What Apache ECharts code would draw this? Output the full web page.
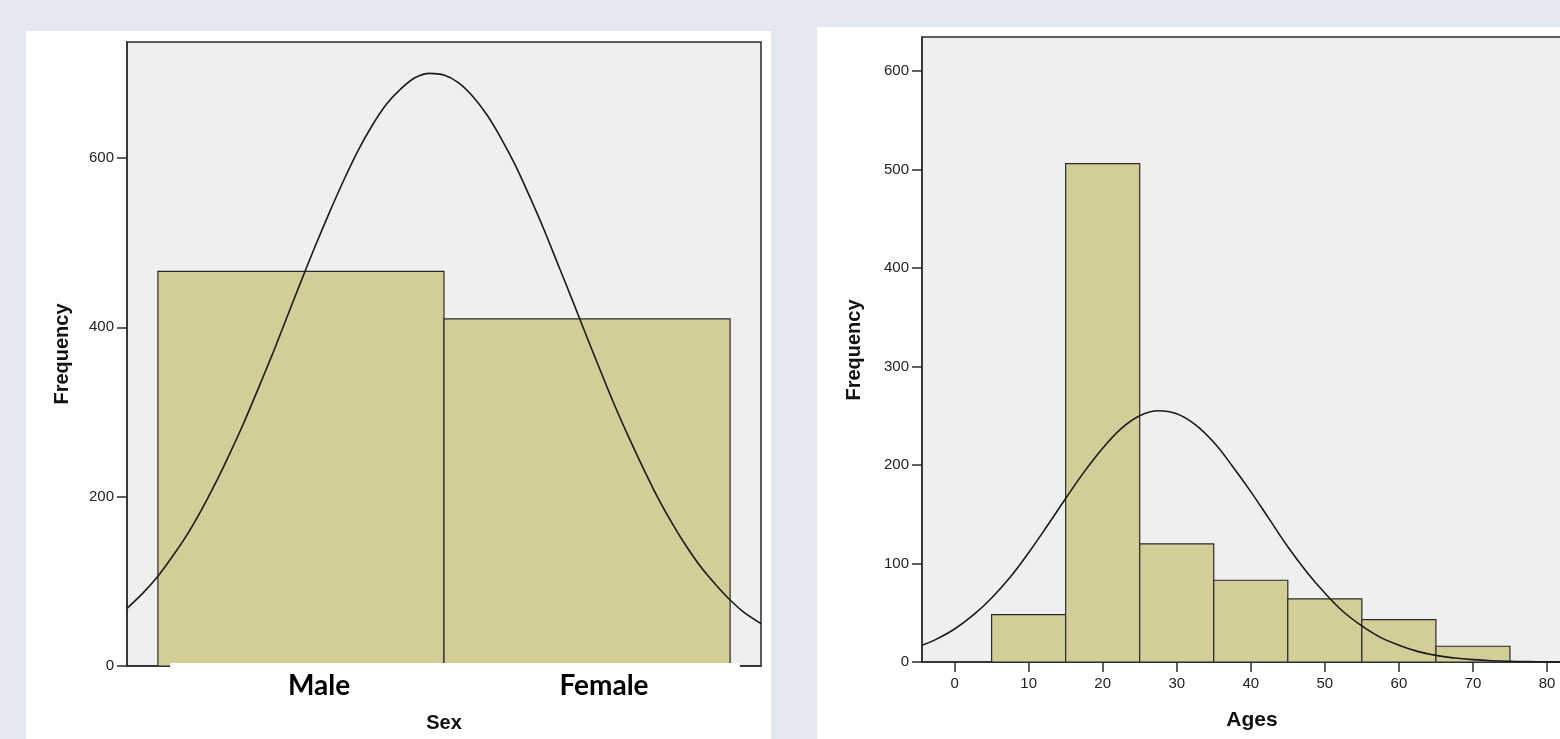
<!DOCTYPE html>
<html>
<head>
<meta charset="utf-8">
<script src="https://cdn.jsdelivr.net/npm/echarts@6/dist/echarts.min.js"></script>
<style>
html,body{margin:0;padding:0;background:#e3e8f0;}
#chart{width:1560px;height:739px;}
</style>
</head>
<body>
<div id="chart"></div>
<script>
// ---- Left panel: Sex ----
const sexCategories = ['Male', 'Female'];
const sexBinStart = [0.5, 1.5];
const sexBinEnd = [1.5, 2.5];
const sexCounts = [466, 410];
const sexYTicks = [0, 200, 400, 600];
const sexCurveX = [0.392, 0.45, 0.5, 0.55, 0.6, 0.65, 0.7, 0.75, 0.8, 0.85, 0.9, 0.95, 1.0, 1.05, 1.1, 1.15, 1.2, 1.25, 1.3, 1.35, 1.4, 1.45, 1.5, 1.55, 1.6, 1.65, 1.7, 1.75, 1.8, 1.85, 1.9, 1.95, 2.0, 2.05, 2.1, 2.15, 2.2, 2.25, 2.3, 2.35, 2.4, 2.45, 2.5, 2.55, 2.608];
const sexCurveY = [68, 87, 106, 129, 154, 183, 215, 250, 287, 327, 368, 411, 454, 496, 536, 574, 609, 639, 664, 682, 695, 700, 698, 689, 673, 651, 623, 591, 554, 515, 473, 431, 388, 346, 305, 267, 231, 197, 167, 140, 116, 96, 78, 63, 50];

// ---- Right panel: Ages ----
const ageBinStart = [5, 15, 25, 35, 45, 55, 65];
const ageBinEnd = [15, 25, 35, 45, 55, 65, 75];
const ageCounts = [48, 506, 120, 83, 64, 43, 16];
const ageXTicks = [0, 10, 20, 30, 40, 50, 60, 70, 80];
const ageYTicks = [0, 100, 200, 300, 400, 500, 600];
const ageCurveX = [-4.4, -2.5, 0, 2.5, 5, 7.5, 10, 12.5, 15, 17.5, 20, 22.5, 25, 27.5, 30, 32.5, 35, 37.5, 40, 42.5, 45, 47.5, 50, 52.5, 55, 57.5, 60, 62.5, 65, 67.5, 70, 72.5, 75, 77.5, 80, 85];
const ageCurveY = [17, 23, 33.5, 47.5, 65, 86, 111, 138, 166, 193, 217, 237, 250, 255, 252, 241, 223, 199, 173, 145, 117, 92, 70, 51, 36.6, 25, 17, 10.8, 6.7, 4.1, 2.4, 1.3, 0.7, 0.4, 0.2, 0];

const FONT = '"Liberation Sans", Arial, sans-serif';
const BAR_FILL = '#d3ce97';
const EDGE = '#2b2b2b';

function histItem(params, api) {
  const x0 = api.value(0), x1 = api.value(1), v = api.value(2);
  const pTop = api.coord([x0, v]);
  const pBot = api.coord([x1, 0]);
  return {
    type: 'rect',
    shape: { x: pTop[0], y: pTop[1], width: pBot[0] - pTop[0], height: pBot[1] - pTop[1] },
    style: { fill: BAR_FILL, stroke: EDGE, lineWidth: 1.2 }
  };
}

const sexBars = sexCounts.map((c, i) => [sexBinStart[i], sexBinEnd[i], c]);
const ageBars = ageCounts.map((c, i) => [ageBinStart[i], ageBinEnd[i], c]);
const sexCurve = sexCurveX.map((x, i) => [x, sexCurveY[i]]);
const ageCurve = ageCurveX.map((x, i) => [x, ageCurveY[i]]);

const axisLineStyle = { color: EDGE, width: 1.5 };
const labelStyle = { color: '#222', fontFamily: FONT, fontSize: 15 };

const chart = echarts.init(document.getElementById('chart'), null, { renderer: 'canvas' });
chart.setOption({
  animation: false,
  backgroundColor: 'transparent',
  grid: [
    { left: 127, top: 42, width: 634, height: 624, outerBoundsMode: 'none', containLabel: false, show: true, backgroundColor: '#efefef', borderColor: EDGE, borderWidth: 1.5 },
    { left: 922, top: 37, width: 662, height: 625, outerBoundsMode: 'none', containLabel: false, show: true, backgroundColor: '#efefef', borderColor: EDGE, borderWidth: 1.5 }
  ],
  xAxis: [
    { type: 'value', gridIndex: 0, min: 0.392, max: 2.608,
      axisLine: { show: true, onZero: false, lineStyle: axisLineStyle },
      axisTick: { show: false }, axisLabel: { show: false }, splitLine: { show: false } },
    { type: 'value', gridIndex: 1, min: -4.4, max: 85,
      axisLine: { show: true, onZero: false, lineStyle: axisLineStyle },
      axisTick: { show: true, inside: false, length: 10, customValues: ageXTicks, lineStyle: axisLineStyle },
      axisLabel: Object.assign({ show: true, margin: 14, customValues: ageXTicks }, labelStyle),
      splitLine: { show: false } }
  ],
  yAxis: [
    { type: 'value', gridIndex: 0, min: 0, max: 737,
      axisLine: { show: true, onZero: false, lineStyle: axisLineStyle },
      axisTick: { show: true, inside: false, length: 10, customValues: sexYTicks, lineStyle: axisLineStyle },
      axisLabel: Object.assign({ show: true, margin: 13, customValues: sexYTicks }, labelStyle),
      splitLine: { show: false } },
    { type: 'value', gridIndex: 1, min: 0, max: 634.5,
      axisLine: { show: true, onZero: false, lineStyle: axisLineStyle },
      axisTick: { show: true, inside: false, length: 10, customValues: ageYTicks, lineStyle: axisLineStyle },
      axisLabel: Object.assign({ show: true, margin: 13, customValues: ageYTicks }, labelStyle),
      splitLine: { show: false } }
  ],
  series: [
    { type: 'custom', xAxisIndex: 0, yAxisIndex: 0, renderItem: histItem, data: sexBars, z: 2 },
    { type: 'line', xAxisIndex: 0, yAxisIndex: 0, data: sexCurve, smooth: 0.3, showSymbol: false,
      lineStyle: { color: '#1a1a1a', width: 1.6 }, z: 3, clip: true },
    { type: 'custom', xAxisIndex: 1, yAxisIndex: 1, renderItem: histItem, data: ageBars, z: 2 },
    { type: 'line', xAxisIndex: 1, yAxisIndex: 1, data: ageCurve, smooth: 0.4, showSymbol: false,
      lineStyle: { color: '#1a1a1a', width: 1.6 }, z: 3, clip: true }
  ],
  graphic: [
    { type: 'rect', z: -10, shape: { x: 26, y: 31, width: 745, height: 708 }, style: { fill: '#ffffff' } },
    { type: 'rect', z: -10, shape: { x: 817, y: 27, width: 743, height: 712 }, style: { fill: '#ffffff' } },
    { type: 'rect', z: 100, shape: { x: 170, y: 663, width: 570, height: 44 }, style: { fill: '#ffffff' } },
    { type: 'text', z: 101, x: 319, y: 686, style: { text: sexCategories[0], font: 'bold 28px Lato, "Open Sans", sans-serif', fill: '#000', textAlign: 'center', textVerticalAlign: 'middle' } },
    { type: 'text', z: 101, x: 604, y: 686, style: { text: sexCategories[1], font: 'bold 28px Lato, "Open Sans", sans-serif', fill: '#000', textAlign: 'center', textVerticalAlign: 'middle' } },
    { type: 'text', z: 101, x: 444, y: 723, style: { text: 'Sex', font: 'bold 20px ' + FONT, fill: '#111', textAlign: 'center', textVerticalAlign: 'middle' } },
    { type: 'text', z: 101, x: 62, y: 354, rotation: Math.PI / 2, style: { text: 'Frequency', font: 'bold 20px ' + FONT, fill: '#111', textAlign: 'center', textVerticalAlign: 'middle' } },
    { type: 'text', z: 101, x: 1252, y: 720, style: { text: 'Ages', font: 'bold 21px ' + FONT, fill: '#111', textAlign: 'center', textVerticalAlign: 'middle' } },
    { type: 'text', z: 101, x: 854, y: 350, rotation: Math.PI / 2, style: { text: 'Frequency', font: 'bold 20px ' + FONT, fill: '#111', textAlign: 'center', textVerticalAlign: 'middle' } }
  ]
});
</script>
</body>
</html>
